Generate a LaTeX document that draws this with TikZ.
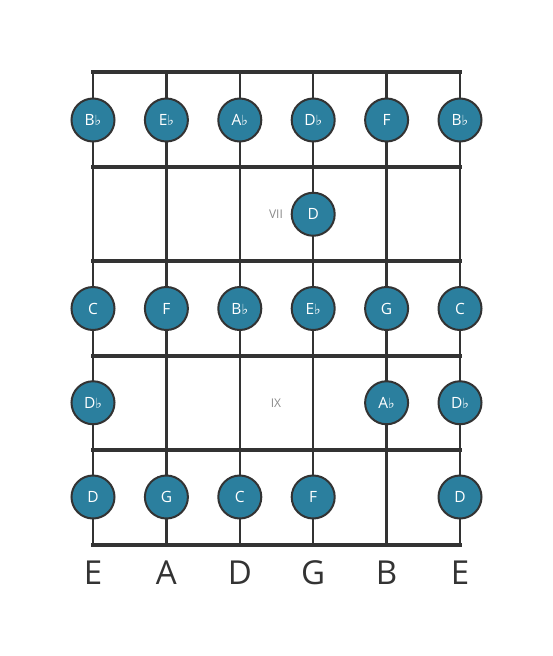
\documentclass[tikz,border=0pt]{standalone}
\usepackage{fontspec}
\setmainfont{Open Sans}
\newfontfamily\flatfont{DejaVu Sans}
\definecolor{notefill}{HTML}{2B7F9E}
\definecolor{linegray}{HTML}{333333}
\definecolor{markgray}{HTML}{8A8A8A}
\newcommand{\fl}{{\flatfont\fontsize{14}{14}\selectfont\char"266D}}
\begin{document}
\begin{tikzpicture}[x=1pt,y=-1pt,
  notestyle/.style={circle,draw=linegray,line width=2pt,fill=notefill,minimum size=43pt,inner sep=0pt,text=white,font=\fontsize{15.5}{15.5}\selectfont},
  fretstyle/.style={draw=linegray,line width=4pt,line cap=rect},
  stringstyle/.style={draw=linegray,line width=2.3pt},
  namestyle/.style={text=linegray,font=\fontsize{33}{33}\selectfont},
  markstyle/.style={text=markgray,font=\fontsize{12}{12}\selectfont}]
\useasboundingbox (0,0) rectangle (553,656);
% strings and their names
\foreach \s/\t in {1/E,2/A,3/D,4/G,5/B,6/E}{
  \coordinate (top\s) at ({93+73.4*(\s-1)},72);
  \coordinate (bot\s) at ({93+73.4*(\s-1)},545);
  \draw[stringstyle] (top\s) -- (bot\s);
  \node[namestyle] (name\s) at ({93+73.4*(\s-1)},573) {\t};
}
% frets
\foreach \f in {0,...,5}{
  \coordinate (fl\f) at (93,{72+94.6*\f});
  \coordinate (fr\f) at (460,{72+94.6*\f});
  \draw[fretstyle] (fl\f) -- (fr\f);
}
% position marks
\node[markstyle] (vii) at (276,214) {VII};
\node[markstyle] (ix) at (276,403) {IX};
% notes
\foreach \r/\s/\t in {1/1/B\fl,1/2/E\fl,1/3/A\fl,1/4/D\fl,1/5/F,1/6/B\fl,
  2/4/D,
  3/1/C,3/2/F,3/3/B\fl,3/4/E\fl,3/5/G,3/6/C,
  4/1/D\fl,4/5/A\fl,4/6/D\fl,
  5/1/D,5/2/G,5/3/C,5/4/F,5/6/D}
  \node[notestyle] (n\r-\s) at ({93+73.4*(\s-1)},{120+94.25*(\r-1)}) {\t};
\end{tikzpicture}
\end{document}
